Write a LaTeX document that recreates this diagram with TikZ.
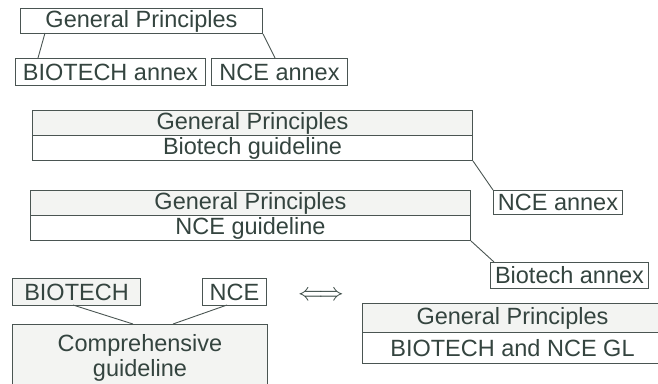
\documentclass[tikz,border=0pt]{standalone}
\usepackage{fontspec}
\setmainfont{Liberation Sans}
\definecolor{txt}{HTML}{34443F}
\definecolor{linec}{HTML}{4A5552}
\definecolor{speck}{HTML}{F3F4F2}
\begin{document}
\begin{tikzpicture}[x=1pt,y=-1pt,
  box/.style={draw=linec, line width=1pt, inner sep=0pt, anchor=north west,
    text=txt, font=\fontsize{23.5}{25}\selectfont},
  shade/.style={fill=speck},
  link/.style={draw=linec, line width=0.9pt}]
\useasboundingbox (0,0) rectangle (658,383);
% group 1
\node[box, minimum width=242, minimum height=25] (gp1) at (20,8) {General Principles};
\node[box, minimum width=190, minimum height=27] (ba1) at (15,58) {BIOTECH annex};
\node[box, minimum width=136, minimum height=27] (na1) at (211,58) {NCE annex};
\coordinate (gp1a) at (45,33);
\coordinate (ba1a) at (38,58);
\coordinate (na1a) at (275,58);
\draw[link] (gp1a) -- (ba1a);
\draw[link] (gp1.south east) -- (na1a);
% group 2
\node[box, shade, minimum width=440, minimum height=25] (gp2) at (32,110) {General Principles};
\node[box, minimum width=440, minimum height=25] (bg2) at (32,135) {Biotech guideline};
\node[box, minimum width=129, minimum height=24] (na2) at (493,190) {NCE annex};
\draw[link] (bg2.south east) -- (na2.north west);
% group 3
\node[box, shade, minimum width=440, minimum height=25] (gp3) at (30,190) {General Principles};
\node[box, minimum width=440, minimum height=25] (ng3) at (30,215) {NCE guideline};
\node[box, minimum width=158, minimum height=26] (ba3) at (490,262) {Biotech annex};
\draw[link] (ng3.south east) -- ([xshift=4pt]ba3.north west);
% group 4
\node[box, shade, minimum width=128, minimum height=27] (bt4) at (12,278) {BIOTECH};
\node[box, minimum width=64, minimum height=27] (nc4) at (202,278) {NCE};
\node[box, shade, minimum width=255, minimum height=66, align=center,
  font=\fontsize{23.5}{25}\selectfont] (cg4) at (12,324) {Comprehensive\\guideline};
\coordinate (bt4a) at (73,305);
\coordinate (cg4a) at (133,324);
\coordinate (nc4a) at (227,305);
\coordinate (cg4b) at (173,324);
\draw[link] (bt4a) -- (cg4a);
\draw[link] (nc4a) -- (cg4b);
\node[text=txt, font=\fontsize{25}{26}\selectfont] (eq) at (321,296) {$\Longleftrightarrow$};
\node[box, shade, minimum width=300, minimum height=29] (gp5) at (362,303) {General Principles};
\node[box, minimum width=300, minimum height=31] (bn5) at (362,332) {BIOTECH and NCE GL};
\end{tikzpicture}
\end{document}
